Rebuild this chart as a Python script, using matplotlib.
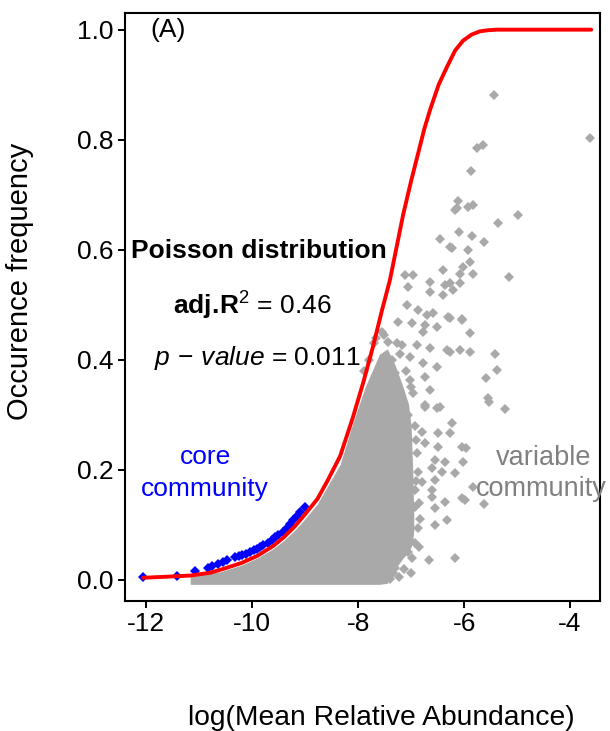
import matplotlib
matplotlib.use("Agg")
import matplotlib.pyplot as plt

plt.rcParams["font.family"] = ["Liberation Sans", "DejaVu Sans"]
plt.rcParams["mathtext.fontset"] = "custom"
plt.rcParams["mathtext.rm"] = "Liberation Sans"
plt.rcParams["mathtext.it"] = "Liberation Sans:italic"
plt.rcParams["mathtext.bf"] = "Liberation Sans:bold"
plt.rcParams["axes.unicode_minus"] = False

GREY = "#A9A9A9"
BLUE = "#0000FF"
RED = "#FF0000"

# fitted Poisson curve
curve_x = [-12.06, -11.6, -11.17, -10.8, -10.55, -10.2, -9.9, -9.6, -9.4, -9.2,
           -9.04, -8.77, -8.58, -8.34, -8.1, -7.9, -7.72, -7.55, -7.40, -7.15,
           -7.0, -6.85, -6.75, -6.64, -6.48, -6.32, -6.17, -6.02, -5.86, -5.70,
           -5.55, -5.38, -3.60]
curve_y = [0.004, 0.006, 0.008, 0.013, 0.020, 0.031, 0.044, 0.062, 0.078, 0.097,
           0.115, 0.147, 0.18, 0.225, 0.295, 0.36, 0.424, 0.49, 0.545, 0.664,
           0.725, 0.782, 0.82, 0.855, 0.90, 0.933, 0.962, 0.980, 0.991, 0.997,
           0.999, 1.0, 1.0]

# core community (blue diamonds just above the curve)
core_x = [-12.06, -11.42, -11.08, -10.83, -10.75, -10.64, -10.56, -10.47, -10.32,
          -10.25, -10.19, -10.11, -10.04, -9.97, -9.91, -9.85, -9.79, -9.70, -9.62,
          -9.57, -9.51, -9.42, -9.34, -9.28, -9.23, -9.16, -9.09, -9.00]
core_y = [0.005, 0.008, 0.017, 0.021, 0.025, 0.029, 0.032, 0.036, 0.041,
          0.043, 0.045, 0.048, 0.051, 0.054, 0.057, 0.060, 0.064, 0.068, 0.073,
          0.078, 0.082, 0.088, 0.095, 0.102, 0.109, 0.116, 0.124, 0.133]

# solid part of the grey cloud (overlapping points), upper / lower envelope
dense_x = [-11.17, -10.6, -10.2, -9.9, -9.6, -9.4, -9.2, -9.04, -8.77, -8.58,
           -8.34, -8.1, -7.87, -7.6, -7.45, -7.3, -7.15, -7.05, -7.0, -6.97, -6.95]
dense_top = [0.008, 0.015, 0.027, 0.040, 0.057, 0.072, 0.090, 0.107, 0.138, 0.17,
             0.21, 0.285, 0.35, 0.41, 0.42, 0.39, 0.35, 0.32, 0.28, 0.20, 0.12]
dense_bot = [-0.008, -0.008, -0.008, -0.008, -0.008, -0.008, -0.008, -0.008, -0.008, -0.008,
             -0.008, -0.008, -0.008, -0.008, -0.006, 0.02, 0.04, 0.05, 0.06, 0.07, 0.09]

# variable community, scattered points
var_x = [-5.43, -3.62, -5.75, -5.64, -5.87, -6.11, -5.83, -5.92, -6.13, -4.98,
         -5.36, -6.09, -5.85, -5.62, -6.23, -5.92, -5.89, -6.08, -5.83, -5.15,
         -6.21, -6.26, -6.04, -5.89, -6.26, -6.08, -5.89, -5.42, -5.38, -5.58,
         -5.55, -5.53, -5.23, -5.96, -6.02, -5.83, -5.98, -5.62, -6.17, -6.66,
         -7.00, -6.60, -6.36, -6.04, -6.55, -6.92, -6.32, -6.55, -6.87, -6.92,
         -7.06, -7.49, -7.30, -6.74, -6.45, -6.23, -6.79, -6.49, -6.26, -6.74,
         -6.49, -7.08, -6.04, -6.55, -6.36, -6.87, -6.60, -6.42, -6.17, -6.79,
         -6.55, -6.92, -6.60, -6.17, -6.45, -6.26, -6.02, -7.11, -6.96, -6.40,
         -6.64, -6.36, -6.08, -7.06, -6.26, -6.64, -6.40, -7.08, -6.87, -6.70,
         -6.58, -6.30, -6.04, -7.25, -6.98, -6.74, -6.51, -6.77, -7.43, -7.17,
         -6.89, -6.64, -6.32, -7.36, -7.02, -6.77, -6.51, -7.58, -7.30, -7.02,
         -6.74, -7.72, -6.64, -6.96, -7.43, -7.64, -7.17, -6.74, -6.51,
         -6.93, -6.88, -6.91, -6.86, -7.00, -7.10, -7.21, -7.27, -7.52, -7.66,
         -7.80, -7.88, -6.99, -7.14, -6.85, -7.22, -7.40, -6.84, -6.90, -7.05,
         -7.34, -7.55, -7.70]
var_y = [0.882, 0.804, 0.785, 0.791, 0.744, 0.689, 0.682, 0.678, 0.676, 0.664,
         0.649, 0.633, 0.625, 0.615, 0.604, 0.600, 0.578, 0.556, 0.556, 0.551,
         0.527, 0.476, 0.475, 0.449, 0.415, 0.418, 0.415, 0.411, 0.382, 0.367,
         0.331, 0.324, 0.311, 0.240, 0.215, 0.169, 0.145, 0.138, 0.040, 0.036,
         0.013, 0.151, 0.142, 0.149, 0.131, 0.133, 0.109, 0.100, 0.095, 0.067,
         0.051, 0.036, 0.022, 0.315, 0.315, 0.285, 0.269, 0.267, 0.267, 0.249,
         0.242, 0.233, 0.242, 0.218, 0.215, 0.196, 0.204, 0.196, 0.195, 0.178,
         0.182, 0.164, 0.164, 0.673, 0.620, 0.605, 0.569, 0.555, 0.555, 0.564,
         0.542, 0.536, 0.540, 0.533, 0.540, 0.524, 0.518, 0.500, 0.491, 0.482,
         0.485, 0.478, 0.473, 0.469, 0.467, 0.464, 0.460, 0.451, 0.433, 0.427,
         0.427, 0.422, 0.418, 0.400, 0.405, 0.395, 0.387, 0.385, 0.376, 0.364,
         0.369, 0.358, 0.345, 0.340, 0.340, 0.327, 0.322, 0.318, 0.313,
         0.280, 0.230, 0.180, 0.140, 0.350, 0.380, 0.410, 0.430, 0.445, 0.440,
         0.400, 0.380, 0.040, 0.020, 0.060, 0.005, 0.002, 0.110, 0.255, 0.300,
         0.012, 0.450, 0.430]

x_ticks = [-12, -10, -8, -6, -4]
y_ticks = [0.0, 0.2, 0.4, 0.6, 0.8, 1.0]

fig = plt.figure(figsize=(6.1, 7.31), dpi=100)
ax = fig.add_axes([0.205, 0.178, 0.779, 0.804])

ax.fill_between(dense_x, dense_bot, dense_top, color=GREY, linewidth=0)
ax.plot(var_x, var_y, "D", color=GREY, ms=5.6, mew=0, ls="none")
ax.plot(core_x, core_y, "D", color=BLUE, ms=5.6, mew=0, ls="none")
ax.plot(curve_x, curve_y, color=RED, lw=2.8, solid_capstyle="round")

ax.set_xlim(-12.4, -3.43)
ax.set_ylim(-0.038, 1.03)
ax.set_xticks(x_ticks)
ax.set_xticklabels([str(t) for t in x_ticks])
ax.set_yticks(y_ticks)
ax.set_yticklabels([f"{t:.1f}" for t in y_ticks])
ax.tick_params(labelsize=19, length=5, width=1.4, direction="out", pad=3)
for s in ax.spines.values():
    s.set_linewidth(1.5)

ax.set_xlabel("log(Mean Relative Abundance)", fontsize=20.3)
ax.set_ylabel("Occurence frequency", fontsize=21)
ax.xaxis.set_label_coords(0.539, -0.178)
ax.yaxis.set_label_coords(-0.192, 0.544)

ax.text(-11.93, 1.0, "(A)", fontsize=19, ha="left", va="center")
ax.text(-9.87, 0.598, "Poisson distribution", fontsize=19, fontweight="bold",
        ha="center", va="center")
ax.text(-10.0, 0.498, r"$\mathbf{adj.\!R}^{2}$ = 0.46", fontsize=19,
        ha="center", va="center")
ax.text(-9.91, 0.404, r"$\mathit{p\,-\,value}$ = 0.011", fontsize=19,
        ha="center", va="center")
ax.text(-10.89, 0.224, "core", fontsize=19, color=BLUE, ha="center", va="center")
ax.text(-10.89, 0.165, "community", fontsize=19, color=BLUE, ha="center", va="center")
ax.text(-4.5, 0.222, "variable", fontsize=19.5, color="#808080", ha="center", va="center")
ax.text(-4.55, 0.165, "community", fontsize=19.5, color="#808080", ha="center", va="center")

fig.savefig("out.png", dpi=100)
